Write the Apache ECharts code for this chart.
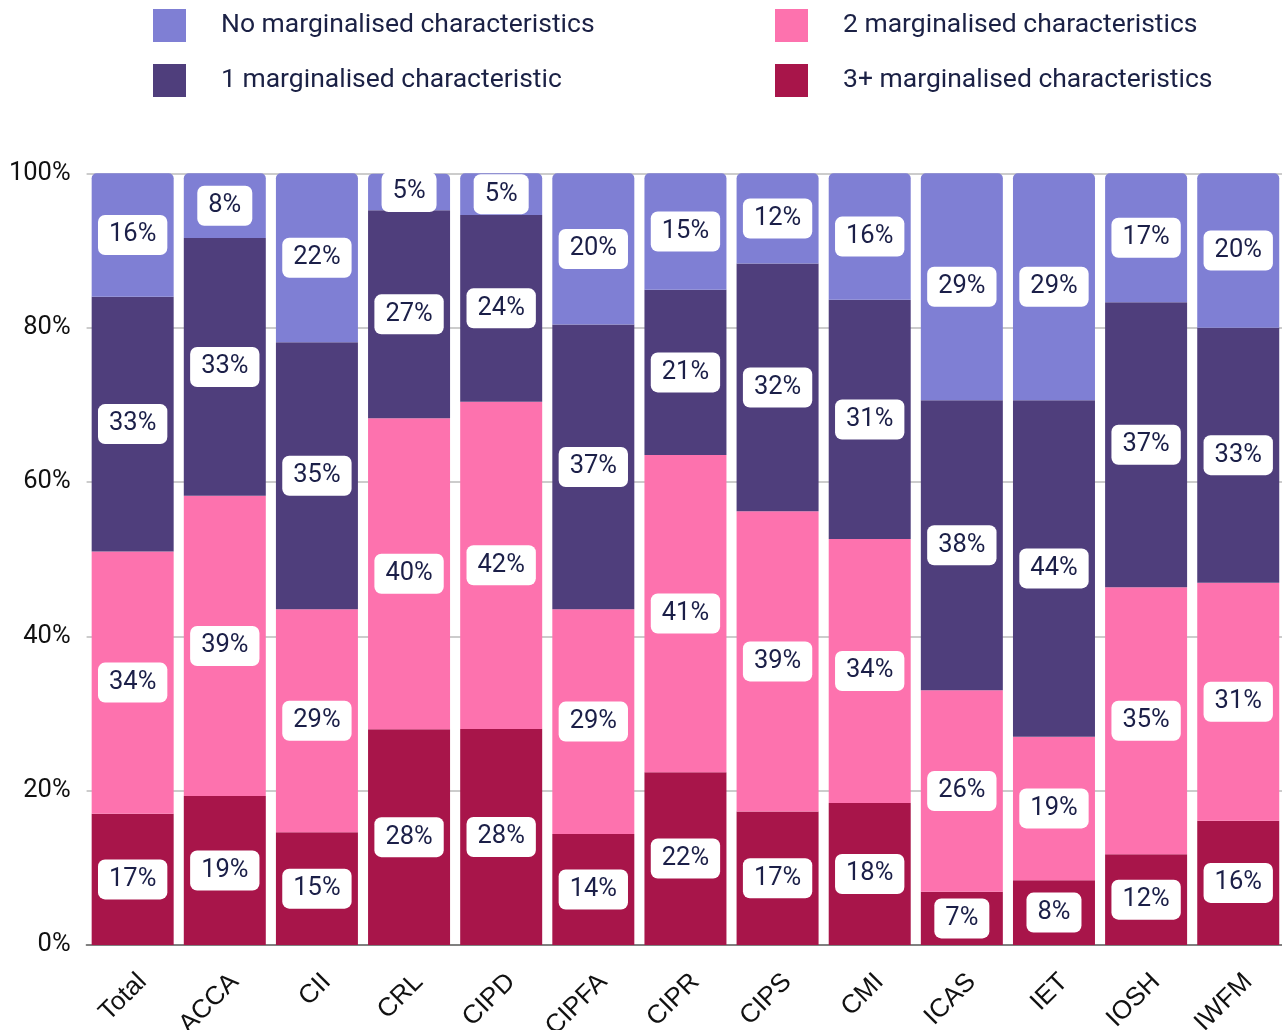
<!DOCTYPE html>
<html>
<head>
<meta charset="utf-8">
<script src="https://cdn.jsdelivr.net/npm/echarts@6/dist/echarts.min.js"></script>
<style>
html,body{margin:0;padding:0;background:#fff;}
#chart{width:1282px;height:1030px;}
</style>
</head>
<body>
<div id="chart"></div>
<script>
const categories = ['Total','ACCA','CII','CRL','CIPD','CIPFA','CIPR','CIPS','CMI','ICAS','IET','IOSH','IWFM'];
const seriesNames = ['No marginalised characteristics','1 marginalised characteristic','2 marginalised characteristics','3+ marginalised characteristics'];
const threePlus = [17, 19.3, 14.6, 27.95, 28.0, 14.4, 22.4, 17.3, 18.4, 6.9, 8.4, 11.75, 16.1];
const two       = [34, 38.9, 28.9, 40.3, 42.4, 29.1, 41.1, 38.9, 34.2, 26.1, 18.6, 34.6, 30.85];
const one       = [33, 33.4, 34.6, 26.95, 24.2, 36.9, 21.4, 32.1, 31.0, 37.6, 43.6, 36.95, 33.05];
const noneVals  = [16, 8.4, 21.9, 4.75, 5.4, 19.6, 15.1, 11.7, 16.4, 29.4, 29.4, 16.7, 20.0];
const yTicks = [0, 20, 40, 60, 80, 100];

const colors = {
  none: '#7f7fd4',
  one: '#4f3e7c',
  two: '#fd72ae',
  three: '#a8154a'
};

const labelStyle = {
  show: true,
  position: 'inside',
  formatter: p => Math.round(p.value) + '%',
  color: '#1b1f48',
  fontFamily: 'Roboto',
  fontSize: 25.5,
  lineHeight: 26,
  backgroundColor: '#ffffff',
  borderRadius: 7,
  padding: [7, 11]
};

function mkSeries(name, data, color, radius) {
  return {
    name: name,
    type: 'bar',
    stack: 'total',
    data: data,
    barWidth: 82,
    itemStyle: { color: color, borderRadius: radius || 0 },
    label: labelStyle,
    emphasis: { disabled: true }
  };
}

const chart = echarts.init(document.getElementById('chart'), null, { renderer: 'canvas' });
const legendText = { color: '#1b2145', fontFamily: 'Roboto', fontSize: 26.5, padding: [6, 0, 0, 30] };
chart.setOption({
  animation: false,
  backgroundColor: '#ffffff',
  legend: [
    {
      orient: 'vertical', left: 148, top: 4, itemWidth: 33, itemHeight: 33, itemGap: 22,
      icon: 'rect', data: [seriesNames[0], seriesNames[1]], textStyle: legendText, selectedMode: false
    },
    {
      orient: 'vertical', left: 770, top: 4, itemWidth: 33, itemHeight: 33, itemGap: 22,
      icon: 'rect', data: [seriesNames[2], seriesNames[3]], textStyle: legendText, selectedMode: false
    }
  ],
  grid: { left: 86.6, right: -2.3, top: 173.3, bottom: 85, containLabel: false, outerBoundsMode: 'none' },
  xAxis: {
    type: 'category',
    data: categories,
    axisTick: { show: false },
    axisLine: { show: true, lineStyle: { color: '#808080', width: 2 } },
    axisLabel: {
      rotate: 45, color: '#111', fontFamily: 'Liberation Sans', fontSize: 26, margin: 23,
      interval: 0, verticalAlign: 'top', lineHeight: 28
    }
  },
  yAxis: {
    type: 'value',
    min: yTicks[0],
    max: yTicks[yTicks.length - 1],
    interval: 20,
    axisLine: { show: false },
    axisTick: { show: false },
    splitLine: { lineStyle: { color: '#cccccc', width: 2 } },
    axisLabel: { formatter: v => v + '%', color: '#111', fontFamily: 'Roboto', fontSize: 25.5, margin: 16 }
  },
  series: [
    mkSeries(seriesNames[3], threePlus, colors.three),
    mkSeries(seriesNames[2], two, colors.two),
    mkSeries(seriesNames[1], one, colors.one),
    mkSeries(seriesNames[0], noneVals, colors.none, [5, 5, 0, 0])
  ]
});
</script>
</body>
</html>
